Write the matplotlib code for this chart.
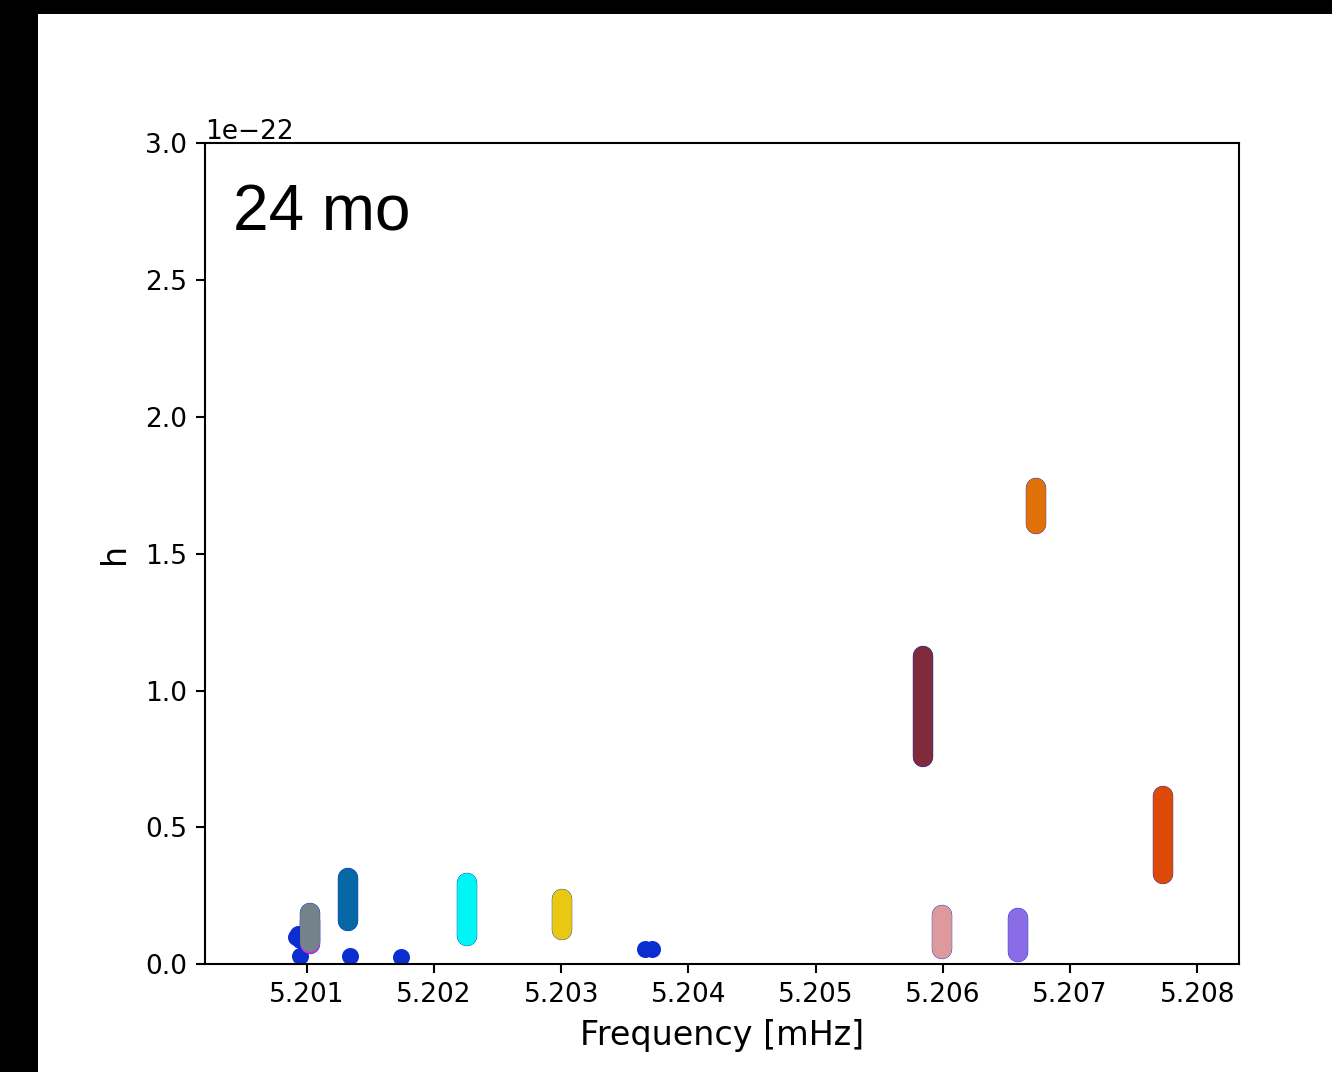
import matplotlib
matplotlib.use("Agg")
import matplotlib.pyplot as plt
from matplotlib.patches import Rectangle

# Strain amplitude ranges per source (h in units of 1e-22), frequency in mHz
H_SCALE = 1e-22
src_freq = [5.201025, 5.201028, 5.201325, 5.202258, 5.203007, 5.205841,
            5.205994, 5.206589, 5.206731, 5.207728]
src_h_lo = [0.074, 0.083, 0.158, 0.103, 0.125, 0.756, 0.056, 0.045, 1.609, 0.330]
src_h_hi = [0.160, 0.189, 0.316, 0.298, 0.238, 1.126, 0.180, 0.170, 1.739, 0.616]
src_color = ["#d42fd0", "#738389", "#0868a6", "#00f5f5", "#e9c812", "#7f2b3c",
             "#dc9a9c", "#8a6de6", "#e07008", "#dd4a08"]

# Isolated low-amplitude detections
dot_freq = [5.200915, 5.200945, 5.200930, 5.200950, 5.201339, 5.201737,
            5.203659, 5.203714]
dot_h = [0.098, 0.088, 0.112, 0.032, 0.030, 0.027, 0.056, 0.056]
dot_color = "#0a2ed0"

x_ticks = [5.201, 5.202, 5.203, 5.204, 5.205, 5.206, 5.207, 5.208]
y_ticks = [0.0, 0.5, 1.0, 1.5, 2.0, 2.5, 3.0]

W, H = 1332, 1072
fig = plt.figure(figsize=(W / 100, H / 100), dpi=100)
fig.patch.set_facecolor("white")

# dark frame along the top and left edges
fig.patches.append(Rectangle((0, 0), 38 / W, 1, transform=fig.transFigure,
                             facecolor="black", edgecolor="none", zorder=-5))
fig.patches.append(Rectangle((0, 1 - 14 / H), 1, 14 / H, transform=fig.transFigure,
                             facecolor="black", edgecolor="none", zorder=-5))

ax = fig.add_axes([205 / W, 1 - 964.3 / H, 1034 / W, 821 / H])

lw = 14.2
for f, lo, hi in zip(src_freq, src_h_lo, src_h_hi):
    ax.plot([f, f], [lo * H_SCALE, hi * H_SCALE], color=dot_color, lw=lw + 0.5,
            solid_capstyle="round", zorder=2)
for f, lo, hi, c in zip(src_freq, src_h_lo, src_h_hi, src_color):
    ax.plot([f, f], [lo * H_SCALE, hi * H_SCALE], color=c, lw=lw,
            solid_capstyle="round", zorder=3)

ax.scatter(dot_freq, [v * H_SCALE for v in dot_h], s=150, color=dot_color,
           linewidths=0, zorder=2.5)

ax.set_xlim(5.200200, 5.208328)
ax.set_ylim(0, 3.0 * H_SCALE)
ax.set_xticks(x_ticks)
ax.set_xticklabels([f"{v:.3f}" for v in x_ticks])
ax.set_yticks([v * H_SCALE for v in y_ticks])

for s in ax.spines.values():
    s.set_linewidth(1.5)
ax.tick_params(labelsize=19, length=6.5, width=1.5, pad=6.5)
ax.yaxis.get_offset_text().set_fontsize(19)

ax.set_xlabel("Frequency [mHz]", fontsize=24, labelpad=8)
ax.set_ylabel("h", fontsize=24, labelpad=10)

ax.text(0.0266, 0.894, "24 mo", transform=ax.transAxes, fontsize=46,
        family="Liberation Sans", va="baseline", ha="left")

fig.savefig("out.png", dpi=100)
